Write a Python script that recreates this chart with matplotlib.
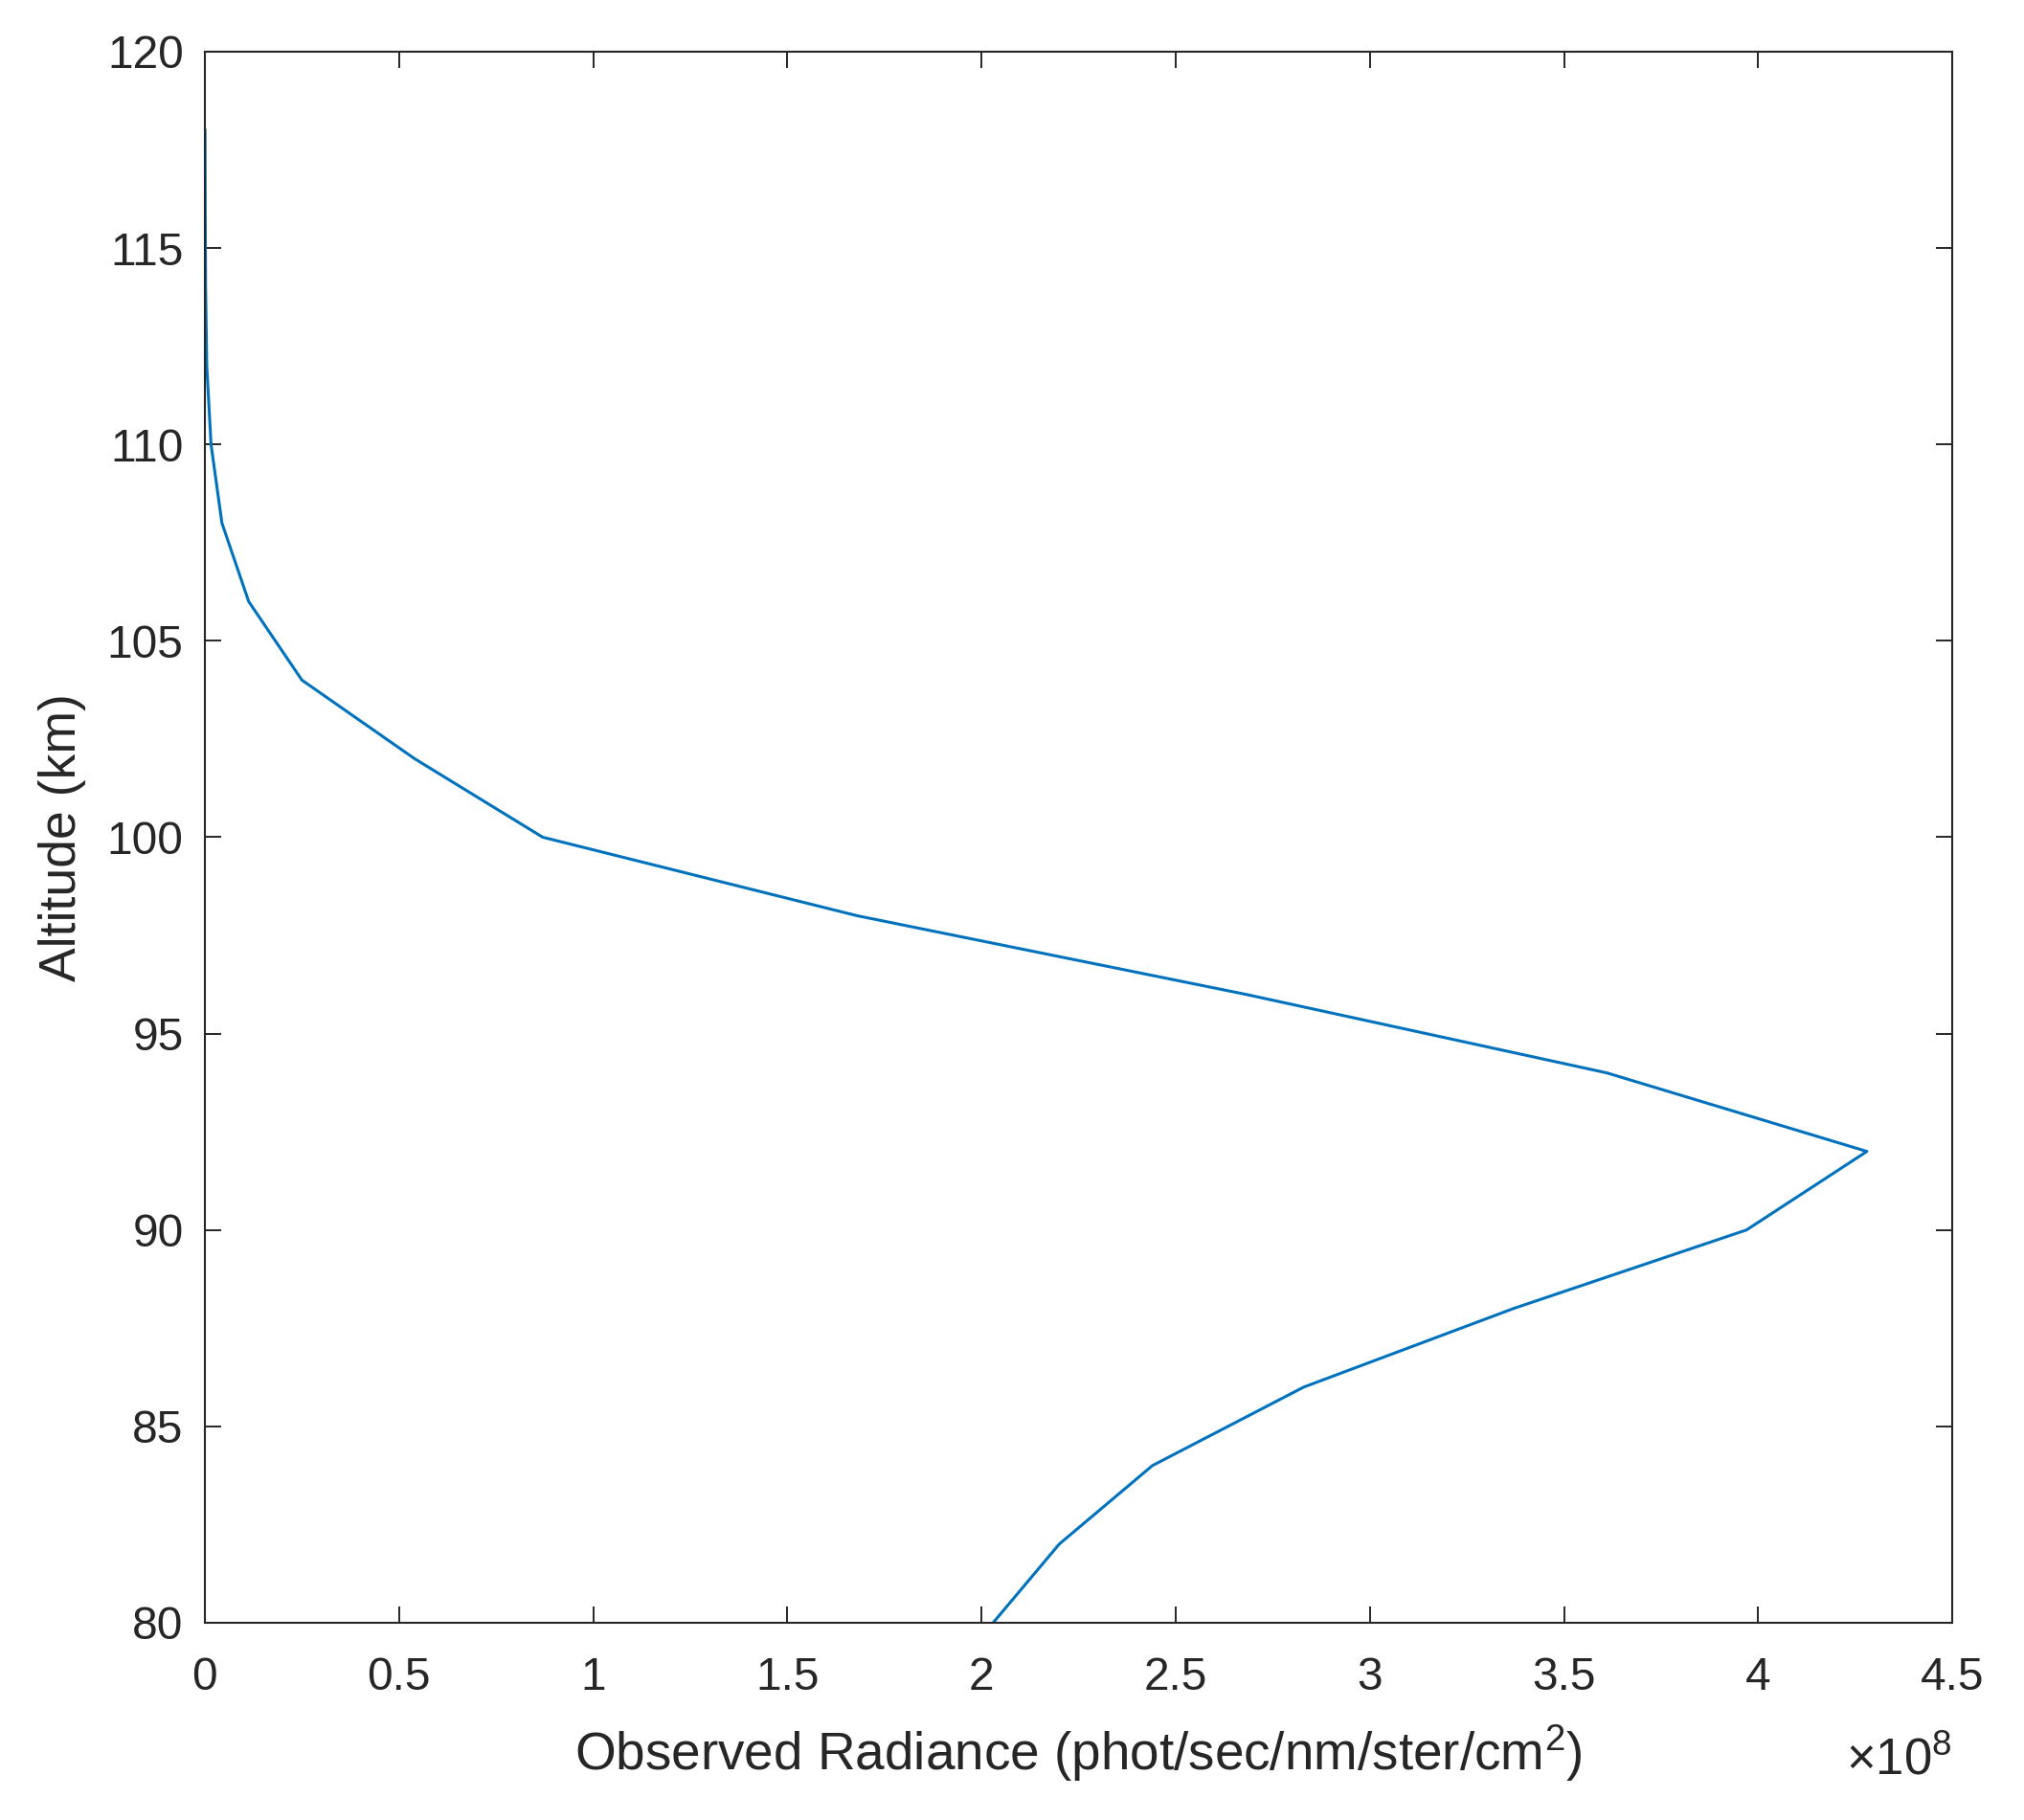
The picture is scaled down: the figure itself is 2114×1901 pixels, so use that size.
import matplotlib
matplotlib.use("Agg")
import matplotlib.pyplot as plt

# Altitude profile of observed radiance (radiance in units of 1e8 phot/sec/nm/ster/cm^2)
altitude_km = [80, 82, 84, 86, 88, 90, 92, 94, 96, 98,
               100, 102, 104, 106, 108, 110, 112, 114, 116, 118]
radiance_e8 = [2.03, 2.20, 2.44, 2.83, 3.37, 3.97, 4.28, 3.61, 2.68, 1.68,
               0.87, 0.54, 0.25, 0.113, 0.044, 0.016, 0.005, 0.002, 0.001, 0.0005]

x_ticks = [0, 0.5, 1, 1.5, 2, 2.5, 3, 3.5, 4, 4.5]
x_tick_labels = ["0", "0.5", "1", "1.5", "2", "2.5", "3", "3.5", "4", "4.5"]
y_ticks = [80, 85, 90, 95, 100, 105, 110, 115, 120]

plt.rcParams['font.family'] = ['Liberation Sans', 'DejaVu Sans']
plt.rcParams['mathtext.fontset'] = 'custom'
plt.rcParams['mathtext.rm'] = 'Liberation Sans'
plt.rcParams['mathtext.it'] = 'Liberation Sans'

text_color = '#262626'

fig = plt.figure(figsize=(21.14, 19.01), dpi=100)
ax = fig.add_axes([0.1012, 0.1084, 0.8634, 0.8632])

ax.plot(radiance_e8, altitude_km, color='#0072BD', lw=2.2)

ax.set_xlim(0, 4.5)
ax.set_ylim(80, 120)
ax.set_xticks(x_ticks)
ax.set_xticklabels(x_tick_labels)
ax.set_yticks(y_ticks)

ax.tick_params(direction='in', length=12, width=1.4, colors=text_color,
               labelsize=34.5, top=True, right=True)
ax.tick_params(axis='x', pad=25)
ax.tick_params(axis='y', pad=16)
for s in ax.spines.values():
    s.set_color(text_color)
    s.set_linewidth(1.5)

ax.set_xlabel("Observed Radiance (phot/sec/nm/ster/cm$^2$)", fontsize=39.5,
              color=text_color, labelpad=18)
ax.set_ylabel("Altitude (km)", fontsize=38.5, color=text_color, labelpad=16)

ax.text(1.0, -0.088, r"$\times10^{8}$", transform=ax.transAxes, ha='right',
        va='center', fontsize=38, color=text_color)

fig.savefig("out.png", dpi=100, facecolor='white')
